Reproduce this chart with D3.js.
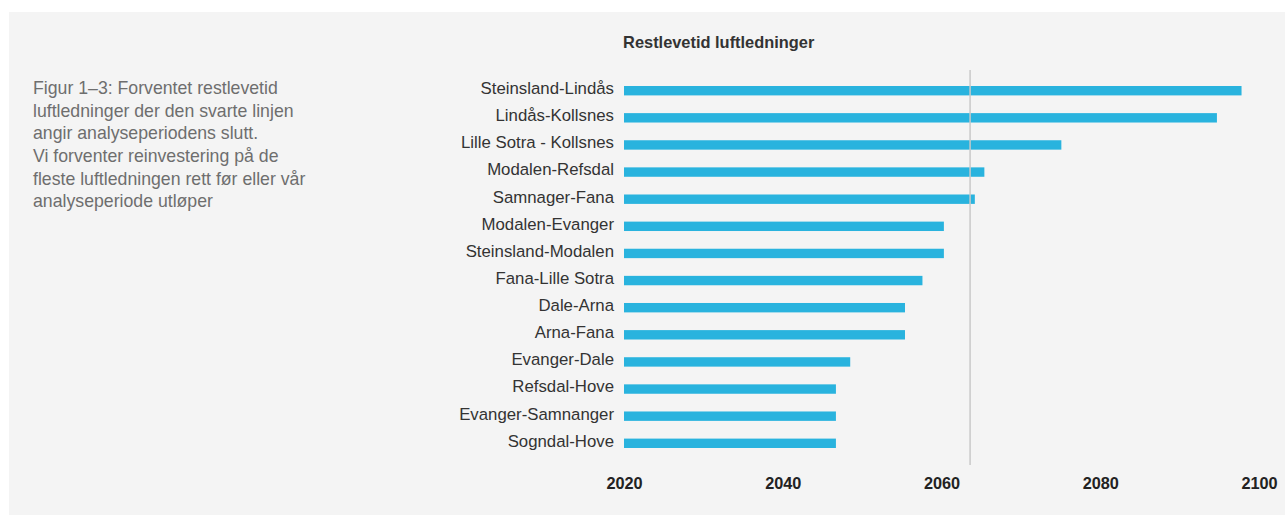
<!DOCTYPE html>
<html>
<head>
<meta charset="utf-8">
<script src="https://cdn.jsdelivr.net/npm/d3@7/dist/d3.min.js"></script>
<style>
  html, body { margin: 0; padding: 0; background: #ffffff; }
  svg { display: block; }
</style>
</head>
<body>
<svg id="chart" width="1285" height="515"></svg>
<script>
// ---- data ----
const categories = [
  "Steinsland-Lindås",
  "Lindås-Kollsnes",
  "Lille Sotra - Kollsnes",
  "Modalen-Refsdal",
  "Samnager-Fana",
  "Modalen-Evanger",
  "Steinsland-Modalen",
  "Fana-Lille Sotra",
  "Dale-Arna",
  "Arna-Fana",
  "Evanger-Dale",
  "Refsdal-Hove",
  "Evanger-Samnanger",
  "Sogndal-Hove"
];
const endYears = [2097.8, 2094.7, 2075.1, 2065.4, 2064.2, 2060.3, 2060.3, 2057.6, 2055.4, 2055.4, 2048.5, 2046.7, 2046.7, 2046.7];
const startYear = 2020;
const periodEnd = [2063.6];
const tickValues = [2020, 2040, 2060, 2080, 2100];
const title = "Restlevetid luftledninger";
const captionLines = [
  "Figur 1–3: Forventet restlevetid",
  "luftledninger der den svarte linjen",
  "angir analyseperiodens slutt.",
  "Vi forventer reinvestering på de",
  "fleste luftledningen rett før eller vår",
  "analyseperiode utløper"
];

// ---- drawing ----
const svg = d3.select("#chart");
const font = "'Liberation Sans', Arial, Helvetica, sans-serif";

svg.append("rect")
  .attr("x", 9).attr("y", 12)
  .attr("width", 1276).attr("height", 503)
  .attr("fill", "#f4f4f4");

const x = d3.scaleLinear().domain([2020, 2100]).range([624, 1259]);
const y = d3.scalePoint().domain(categories).range([90.7, 443.3]);
const barH = 9.4;

// bars
svg.append("g").selectAll("rect")
  .data(categories)
  .join("rect")
  .attr("x", x(startYear))
  .attr("y", d => y(d) - barH / 2)
  .attr("width", (d, i) => x(endYears[i]) - x(startYear))
  .attr("height", barH)
  .attr("fill", "#29b3de");

// period end line
svg.append("g").selectAll("line")
  .data(periodEnd)
  .join("line")
  .attr("x1", d => x(d)).attr("x2", d => x(d))
  .attr("y1", 70).attr("y2", 465)
  .attr("stroke", "#c9c9c9")
  .attr("stroke-width", 1.5);

// category axis
const yAxis = svg.append("g")
  .attr("transform", `translate(${x(startYear)},0)`)
  .call(d3.axisLeft(y).tickSize(0).tickPadding(10));
yAxis.select(".domain").remove();
yAxis.selectAll("text")
  .attr("dy", "0.17em")
  .style("font-family", font)
  .style("font-size", "16.8px")
  .attr("fill", "#333333");

// value axis
const xAxis = svg.append("g")
  .attr("transform", "translate(0,474)")
  .call(d3.axisBottom(x).tickValues(tickValues).tickFormat(d3.format("d")).tickSize(0));
xAxis.select(".domain").remove();
xAxis.selectAll("text")
  .style("font-family", font)
  .style("font-size", "16.3px")
  .style("font-weight", "bold")
  .attr("fill", "#222222");

// title
svg.append("text")
  .attr("x", 718.7).attr("y", 47.7)
  .attr("text-anchor", "middle")
  .style("font-family", font)
  .style("font-size", "16.4px")
  .style("font-weight", "bold")
  .attr("fill", "#333333")
  .text(title);

// caption
svg.append("g").selectAll("text")
  .data(captionLines)
  .join("text")
  .attr("x", 33)
  .attr("y", (d, i) => 94 + i * 22.65)
  .style("font-family", font)
  .style("font-size", "17.7px")
  .attr("fill", "#6e6e6e")
  .text(d => d);
</script>
</body>
</html>
